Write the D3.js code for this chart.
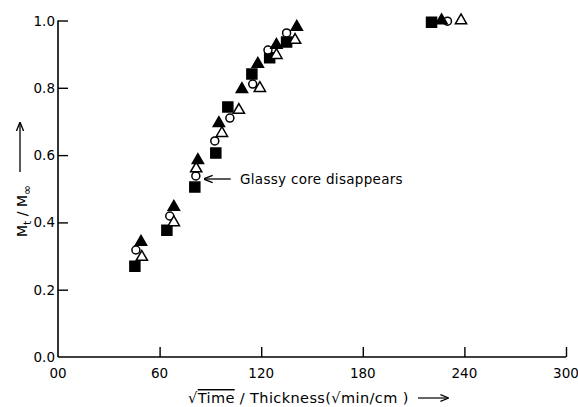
<!DOCTYPE html>
<html>
<head>
<meta charset="utf-8">
<script src="https://cdn.jsdelivr.net/npm/d3@7"></script>
<style>
  body { margin: 0; background: #fff; }
  text { font-family: "DejaVu Sans", sans-serif; fill: #000; }
</style>
</head>
<body>
<svg id="chart"></svg>
<script>
// Data: [sqrt(time)/thickness, Mt/Minf]
const filledSquares = [[45.4, 0.27], [64.3, 0.377], [80.8, 0.505], [93.2, 0.606], [100.3, 0.743],
  [114.5, 0.841], [125, 0.889], [135, 0.936], [220.6, 0.995]];
const openCircles = [[46, 0.318], [66, 0.419], [81.4, 0.538], [92.6, 0.642], [101.5, 0.71],
  [115, 0.811], [124, 0.912], [135, 0.963], [230, 0.998]];
const openTriangles = [[49.5, 0.297], [68.4, 0.40], [81.6, 0.56], [96.8, 0.665], [106.8, 0.734],
  [119.2, 0.799], [129, 0.897], [140, 0.942], [238, 1.0]];
const filledTriangles = [[49, 0.342], [68.4, 0.446], [82.6, 0.585], [95, 0.695], [108.6, 0.796],
  [118, 0.871], [129, 0.927], [141, 0.981], [226.5, 1.0]];

const xTicks = [0, 60, 120, 180, 240, 300];
const xTickLabels = ["00", "60", "120", "180", "240", "300"];
const yTicks = [0, 0.2, 0.4, 0.6, 0.8, 1.0];

const width = 578, height = 407;
const margin = { top: 20.5, right: 12, bottom: 50, left: 58 };

const svg = d3.select("#chart").attr("width", width).attr("height", height);

const x = d3.scaleLinear().domain([0, 300]).range([margin.left, width - margin.right]);
const y = d3.scaleLinear().domain([0, 1]).range([height - margin.bottom, margin.top]);

// Axes (ticks point inwards)
const xAxis = svg.append("g")
  .attr("transform", "translate(0," + y(0) + ")")
  .call(d3.axisTop(x).tickValues(xTicks.slice(1)).tickSize(10).tickFormat(""));
xAxis.select(".domain").attr("d", "M" + x(0) + ",0H" + x(300)).attr("stroke-width", 1.6);
xAxis.selectAll(".tick line").attr("stroke-width", 1.4);

const yAxis = svg.append("g")
  .attr("transform", "translate(" + x(0) + ",0)")
  .call(d3.axisRight(y).tickValues(yTicks.slice(1)).tickSize(10).tickFormat(""));
yAxis.select(".domain").attr("d", "M0," + y(0) + "V" + y(1)).attr("stroke-width", 1.6);
yAxis.selectAll(".tick line").attr("stroke-width", 1.4);

// Tick labels
svg.append("g").selectAll("text")
  .data(xTicks)
  .enter()
  .append("text")
  .attr("x", (d) => x(d))
  .attr("y", y(0) + 21)
  .attr("text-anchor", "middle")
  .style("font-size", "13.5px")
  .text((d, i) => xTickLabels[i]);

svg.append("g").selectAll("text")
  .data(yTicks)
  .enter()
  .append("text")
  .attr("x", x(0) - 3)
  .attr("y", (d) => y(d) + 5)
  .attr("text-anchor", "end")
  .style("font-size", "13.5px")
  .text((d) => d.toFixed(1));

// Points
const sq = d3.symbol().type(d3.symbolSquare).size(100);
const ci = d3.symbol().type(d3.symbolCircle).size(50);
const tri = d3.symbol().type(d3.symbolTriangle).size(55);

function drawSeries(data, sym, fill) {
  svg.append("g").selectAll("path")
    .data(data)
    .enter()
    .append("path")
    .attr("d", sym)
    .attr("transform", (d) => "translate(" + x(d[0]) + "," + y(d[1]) + ")")
    .attr("fill", fill)
    .attr("stroke", "#000")
    .attr("stroke-width", 1.5);
}
drawSeries(filledSquares, sq, "#000");
drawSeries(openCircles, ci, "#fff");
drawSeries(openTriangles, tri, "#fff");
drawSeries(filledTriangles, tri, "#000");

// Arrow marker
svg.append("defs").append("marker")
  .attr("id", "head")
  .attr("viewBox", "0 0 10 10")
  .attr("refX", 9).attr("refY", 5)
  .attr("markerWidth", 7).attr("markerHeight", 7)
  .attr("orient", "auto-start-reverse")
  .append("path")
  .attr("d", "M0,1L10,5L0,9")
  .attr("fill", "none")
  .attr("stroke", "#000")
  .attr("stroke-width", 1.5);

// Annotation
svg.append("line")
  .attr("x1", x(102)).attr("y1", 179)
  .attr("x2", x(86.5)).attr("y2", 179)
  .attr("stroke", "#000").attr("stroke-width", 1.3)
  .attr("marker-end", "url(#head)");
svg.append("text")
  .attr("x", 240).attr("y", 184)
  .style("font-size", "13.5px")
  .style("letter-spacing", "0.3px")
  .text("Glassy core disappears");

// X-axis title
const xt = svg.append("text")
  .attr("x", 188).attr("y", 403)
  .style("font-size", "14.5px")
  .style("letter-spacing", "0.4px");
xt.append("tspan").text("√");
xt.append("tspan").attr("text-decoration", "overline").text("Time");
xt.append("tspan").text(" / Thickness(√min/cm )");
svg.append("line")
  .attr("x1", 418).attr("y1", 398).attr("x2", 448).attr("y2", 398)
  .attr("stroke", "#000").attr("stroke-width", 1.2)
  .attr("marker-end", "url(#head)");

// Y-axis title
const yt = svg.append("text")
  .attr("transform", "translate(27,237) rotate(-90)")
  .style("font-size", "14px");
yt.append("tspan").text("M");
yt.append("tspan").attr("dy", 4).style("font-size", "11px").text("t");
yt.append("tspan").attr("dy", -4).text(" / M");
yt.append("tspan").attr("dy", 4).style("font-size", "12px").text("∞");
svg.append("line")
  .attr("x1", 20).attr("y1", 172).attr("x2", 20).attr("y2", 123)
  .attr("stroke", "#000").attr("stroke-width", 1.3)
  .attr("marker-end", "url(#head)");
</script>
</body>
</html>
